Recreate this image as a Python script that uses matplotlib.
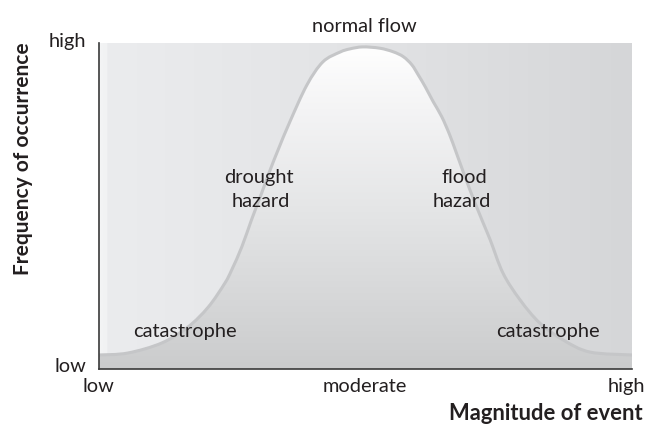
import numpy as np
import matplotlib.pyplot as plt
from matplotlib.colors import LinearSegmentedColormap
from matplotlib.path import Path
from matplotlib.patches import PathPatch

# Curve (magnitude 0-100, frequency 0-100)
magnitude = [0, 5.4, 11.8, 16.7, 20.5, 23.6, 24.9, 26.8, 28.6, 30.5, 32.1, 33.6, 35.8,
             39.0, 42.0, 45.2, 47.1, 49.5, 52.7, 55.2, 57.1, 58.7, 59.9, 61.2, 62.7,
             64.3, 65.8, 67.2, 69.6, 72.0, 73.4, 75.8, 79.0, 82.7, 87.1, 92.1, 100]
frequency = [4.3, 4.9, 8.0, 12.9, 19.0, 26.3, 30.4, 37.5, 45.7, 53.9, 61.0, 67.2, 75.8,
             87.1, 94.2, 97.2, 98.2, 98.8, 98.4, 97.3, 95.8, 93.3, 90.2, 86.6, 82.0,
             77.4, 71.8, 65.6, 54.9, 45.1, 39.6, 29.4, 21.2, 14.1, 8.9, 5.2, 4.3]

x_tick_labels = ["low", "moderate", "high"]
y_tick_labels = ["low", "high"]
x_title = "Magnitude of event"
y_title = "Frequency of occurrence"
peak_label = "normal flow"
left_hazard = ["drought", "hazard"]
right_hazard = ["flood", "hazard"]
tail_label = "catastrophe"

W, H = 649, 424
fig = plt.figure(figsize=(W / 100, H / 100), dpi=100)
FONT = "Lato"
TXT = "#231f20"

def px(x, y):
    return (x / W, 1 - y / H)

L, R, T, B = 99, 632, 43, 369
ax = fig.add_axes([L / W, 1 - B / H, (R - L) / W, (B - T) / H])
ax.set_xlim(0, 100)
ax.set_ylim(0, 100)

# smooth path through the read points (Catmull-Rom rendered as cubic Beziers)
P = np.column_stack([magnitude, frequency]).astype(float)
verts = [P[0]]
codes = [Path.MOVETO]
n = len(P)
for i in range(n - 1):
    p0 = P[i - 1] if i > 0 else P[i]
    p1, p2 = P[i], P[i + 1]
    p3 = P[i + 2] if i + 2 < n else P[i + 1]
    verts += [p1 + (p2 - p0) / 6, p2 - (p3 - p1) / 6, p2]
    codes += [Path.CURVE4] * 3
curve = Path(verts, codes)
area = Path(verts + [(100, 0), (0, 0), P[0], P[0]],
            codes + [Path.LINETO, Path.LINETO, Path.LINETO, Path.CLOSEPOLY])

bg = LinearSegmentedColormap.from_list(
    "bg", [(0, "#f3f4f5"), (0.012, "#f1f2f3"), (0.015, "#ebecee"), (0.5, "#e2e3e5"), (1, "#d5d6d8")])
ax.imshow(np.linspace(0, 1, 512)[None, :], cmap=bg, extent=[0, 100, 0, 100],
          aspect="auto", zorder=0, interpolation="bilinear")

inner = LinearSegmentedColormap.from_list(
    "in", [(0, "#cbcccd"), (0.5, "#e5e6e7"), (0.8, "#f4f4f5"), (1, "#ffffff")])
im = ax.imshow(np.linspace(0, 1, 512)[:, None], cmap=inner, extent=[0, 100, 0, 100],
               origin="lower", aspect="auto", zorder=1, interpolation="bilinear")
im.set_clip_path(area, transform=ax.transData)

ax.add_patch(PathPatch(curve, facecolor="none", edgecolor="#c5c6c8", lw=2.2, zorder=2,
                       joinstyle="round", capstyle="butt"))

for s in ["top", "right"]:
    ax.spines[s].set_visible(False)
for s in ["left", "bottom"]:
    ax.spines[s].set_color("#3a3a3a")
    ax.spines[s].set_linewidth(1.2)
    ax.spines[s].set_zorder(5)
ax.set_xticks([])
ax.set_yticks([])

fs = 14.4
fsb = 15.0

def t(x, y, s, ha="center", **kw):
    fig.text(*px(x, y), s, ha=ha, va="baseline", fontsize=kw.pop("fontsize", fs),
             family=FONT, color=TXT, **kw)

# axis tick labels
t(86, 47, y_tick_labels[1], ha="right")
t(86, 372, y_tick_labels[0], ha="right")
t(98, 392, x_tick_labels[0])
t(365, 392, x_tick_labels[1])
t(645, 392, x_tick_labels[2], ha="right")

t(643, 420, x_title, ha="right", fontsize=15.8, weight="bold")
fig.text(*px(29, 159), y_title, ha="center", va="baseline", rotation=90, fontsize=fsb,
         family=FONT, weight="bold", color=TXT, rotation_mode="anchor")

t(364, 32, peak_label)
t(259, 183, left_hazard[0])
t(261, 207, left_hazard[1])
t(464, 183, right_hazard[0])
t(462, 207, right_hazard[1])
t(184.5, 337, tail_label)
t(547.5, 337, tail_label)

fig.savefig("out.png", dpi=100)
